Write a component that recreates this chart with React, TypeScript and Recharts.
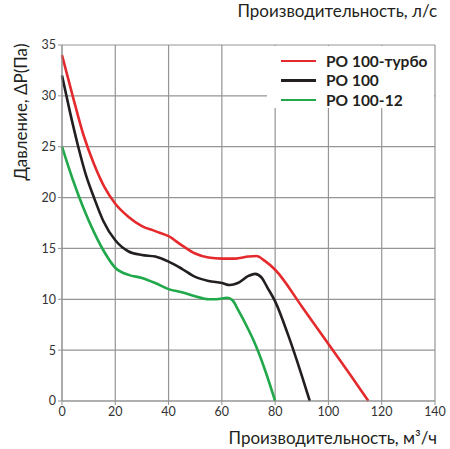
import React from "react";
import {
  CartesianGrid,
  Label,
  Line,
  LineChart,
  XAxis,
  YAxis,
} from "recharts";

// Fan curves: airflow (m³/h) vs static pressure (Pa)
const turboCurve = [
  { q: 0, p: 34 },
  { q: 4, p: 30 },
  { q: 8, p: 26.2 },
  { q: 12, p: 23.3 },
  { q: 16, p: 21.0 },
  { q: 20, p: 19.4 },
  { q: 25, p: 18.1 },
  { q: 30, p: 17.2 },
  { q: 35, p: 16.7 },
  { q: 40, p: 16.2 },
  { q: 45, p: 15.3 },
  { q: 50, p: 14.5 },
  { q: 55, p: 14.1 },
  { q: 60, p: 14.0 },
  { q: 65, p: 14.0 },
  { q: 70, p: 14.2 },
  { q: 73, p: 14.25 },
  { q: 76, p: 13.8 },
  { q: 80, p: 12.9 },
  { q: 90, p: 9.3 },
  { q: 100, p: 5.6 },
  { q: 110, p: 1.9 },
  { q: 115, p: 0 },
];

const baseCurve = [
  { q: 0, p: 32 },
  { q: 3, p: 28.4 },
  { q: 6, p: 25.1 },
  { q: 9, p: 22.2 },
  { q: 12, p: 20.0 },
  { q: 15.5, p: 17.7 },
  { q: 20, p: 15.8 },
  { q: 25, p: 14.7 },
  { q: 30, p: 14.35 },
  { q: 35, p: 14.2 },
  { q: 40, p: 13.7 },
  { q: 45, p: 13.0 },
  { q: 50, p: 12.2 },
  { q: 55, p: 11.8 },
  { q: 60, p: 11.6 },
  { q: 63, p: 11.4 },
  { q: 66, p: 11.6 },
  { q: 70, p: 12.3 },
  { q: 72.5, p: 12.5 },
  { q: 75, p: 12.1 },
  { q: 77, p: 11.2 },
  { q: 80, p: 9.8 },
  { q: 85, p: 6.4 },
  { q: 90, p: 2.5 },
  { q: 93, p: 0 },
];

const slowCurve = [
  { q: 0, p: 25 },
  { q: 4, p: 21.8 },
  { q: 8, p: 19.0 },
  { q: 12, p: 16.6 },
  { q: 16, p: 14.6 },
  { q: 20, p: 13.1 },
  { q: 25, p: 12.4 },
  { q: 30, p: 12.1 },
  { q: 35, p: 11.6 },
  { q: 40, p: 11.0 },
  { q: 45, p: 10.7 },
  { q: 50, p: 10.3 },
  { q: 55, p: 10.0 },
  { q: 58, p: 10.0 },
  { q: 62, p: 10.15 },
  { q: 64, p: 9.9 },
  { q: 66, p: 9.0 },
  { q: 70, p: 7.0 },
  { q: 72, p: 5.9 },
  { q: 76, p: 3.2 },
  { q: 80, p: 0 },
];

const flowTicks = [0, 20, 40, 60, 80, 100, 120, 140];
const litreTicks = [0, 10, 20, 30];
const pressureTicks = [0, 5, 10, 15, 20, 25, 30, 35];

const series = [
  { name: "РО 100-турбо", color: "#e42a2c", data: turboCurve },
  { name: "РО 100", color: "#231f20", data: baseCurve },
  { name: "РО 100-12", color: "#20a84a", data: slowCurve },
];

const FONT = "Lato, sans-serif";
const GRID = "#959595";
const tickStyle = { fill: "#333", fontSize: 12.5, fontFamily: FONT };
const titleStyle = { fill: "#231f20", fontSize: 17, fontFamily: FONT };

// axis title anchored to the right end of an axis
const rightTitle = (text: string, dy: number) => (props: any) => {
  const vb = props.viewBox || {};
  return (
    <text
      x={vb.x + vb.width + 2}
      y={vb.y + dy}
      textAnchor="end"
      style={titleStyle}
    >
      {text}
    </text>
  );
};

// rotated title beside the pressure axis
const pressureTitle = () => (
  <text
    x={20}
    y={112}
    transform="rotate(-90, 20, 112)"
    textAnchor="middle"
    dominantBaseline="central"
    style={titleStyle}
  >
    Давление, ΔP(Па)
  </text>
);

export default function App() {
  return (
    <div style={{ position: "absolute", left: 0, top: 0, width: 450, height: 449 }}>
      <LineChart
        width={450}
        height={449}
        margin={{ top: 25, right: 15, bottom: 28, left: 32 }}
      >
        <CartesianGrid stroke={GRID} strokeWidth={1.2} />
        <XAxis
          dataKey="q"
          type="number"
          domain={[0, 140]}
          ticks={flowTicks}
          height={20}
          allowDuplicatedCategory={false}
          stroke={GRID}
          tickSize={4}
          tick={tickStyle}
        >
          <Label content={rightTitle("Производительность, м³/ч", 43)} />
        </XAxis>
        <XAxis
          xAxisId="top"
          orientation="top"
          type="number"
          domain={[0, 140 / 3.6]}
          ticks={litreTicks}
          height={20}
          stroke={GRID}
          axisLine={false}
          tickSize={4}
          tick={tickStyle}
        >
          <Label content={rightTitle("Производительность, л/с", -8)} />
        </XAxis>
        <YAxis
          type="number"
          domain={[0, 35]}
          ticks={pressureTicks}
          width={30}
          stroke={GRID}
          tickSize={4}
          tick={tickStyle}
        >
          <Label content={pressureTitle} />
        </YAxis>
        {series.map((s) => (
          <Line
            key={s.name}
            data={s.data}
            dataKey="p"
            name={s.name}
            type="monotone"
            stroke={s.color}
            strokeWidth={2.6}
            dot={false}
            isAnimationActive={false}
          />
        ))}
      </LineChart>
      <div
        style={{
          position: "absolute",
          left: 267,
          top: 46,
          width: 167,
          height: 62,
          background: "#fff",
          paddingTop: 5,
          boxSizing: "border-box",
          fontFamily: FONT,
        }}
      >
        {series.map((s) => (
          <div
            key={s.name}
            style={{ display: "flex", alignItems: "center", height: 19.5 }}
          >
            <div
              style={{
                width: 35,
                height: 2.5,
                background: s.color,
                marginLeft: 14,
                marginRight: 10,
              }}
            />
            <span style={{ fontSize: 15.5, fontWeight: 700, color: "#231f20" }}>
              {s.name}
            </span>
          </div>
        ))}
      </div>
    </div>
  );
}
